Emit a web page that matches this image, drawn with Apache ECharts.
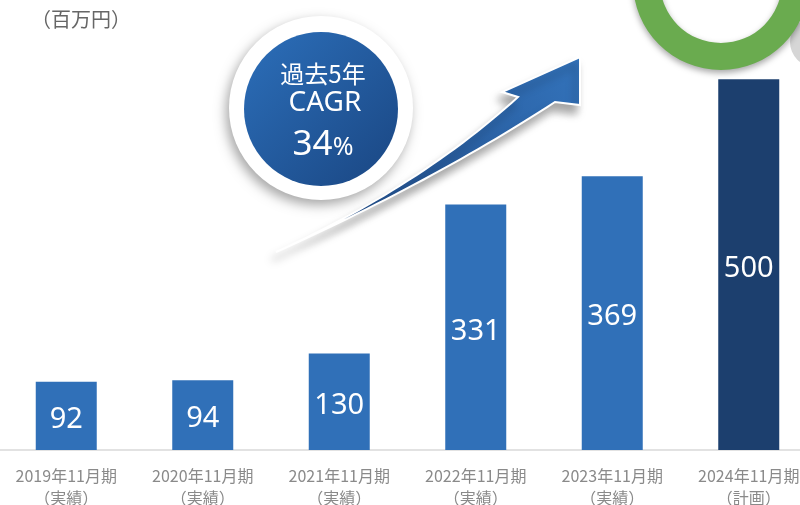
<!DOCTYPE html>
<html>
<head>
<meta charset="utf-8">
<script src="https://cdn.jsdelivr.net/npm/echarts@6/dist/echarts.min.js"></script>
<style>
  html, body { margin: 0; padding: 0; background: #fff; }
  #chart { width: 800px; height: 505px; }
</style>
</head>
<body>
<div id="chart"></div>
<script>
const periods = ["2019年11月期", "2020年11月期", "2021年11月期", "2022年11月期", "2023年11月期", "2024年11月期"];
const statuses = ["実績", "実績", "実績", "実績", "実績", "計画"];
const revenue = [92, 94, 130, 331, 369, 500];
const unitLabel = "（百万円）";
const cagrLines = ["過去5年", "CAGR", "34%"];

const font = '"Noto Sans CJK JP", "Noto Sans", sans-serif';
const chart = echarts.init(document.getElementById("chart"));

// sample a quadratic bezier into points for the tapered arrow shaft
function quad(p0, p1, p2, steps) {
  const pts = [];
  for (let i = 0; i <= steps; i++) {
    const t = i / steps;
    const a = (1 - t) * (1 - t), b = 2 * (1 - t) * t, c = t * t;
    pts.push([a * p0[0] + b * p1[0] + c * p2[0], a * p0[1] + b * p1[1] + c * p2[1]]);
  }
  return pts;
}

const upper = quad([276, 252], [420, 186], [518, 97], 30);
const lower = quad([555, 102], [432, 182], [276, 252], 30);
const arrowPoints = upper.concat([[502, 92], [580, 57], [580, 105]], lower);

chart.setOption({
  animation: false,
  grid: { left: -2, right: -17, top: 5, bottom: 55, outerBoundsMode: "none", containLabel: false },
  xAxis: {
    type: "category",
    data: periods,
    axisTick: { show: false },
    axisLine: { lineStyle: { color: "#e2e2e2", width: 2 } },
    axisLabel: {
      margin: 15,
      color: "#8a8a8a",
      fontSize: 16,
      lineHeight: 22,
      fontFamily: font,
      formatter: (value, index) => value + "\n（" + statuses[index] + "）"
    }
  },
  yAxis: {
    type: "value",
    min: 0,
    max: 600,
    show: false,
    splitLine: { show: false }
  },
  series: [{
    type: "bar",
    data: revenue,
    barWidth: 61,
    itemStyle: {
      color: (p) => statuses[p.dataIndex] === "計画" ? "#1c3f6e" : "#3070b8"
    },
    label: {
      show: true,
      position: "inside",
      offset: [0, 4],
      color: "#fff",
      fontSize: 29,
      fontFamily: '"Noto Sans", sans-serif'
    }
  }],
  graphic: [
    {
      type: "text",
      left: 31,
      top: 9,
      style: { text: unitLabel, fontSize: 20, fill: "#666", fontFamily: font }
    },
    {
      type: "circle",
      shape: { cx: 815, cy: 42, r: 25 },
      style: { fill: "#d6d6d6" },
      z: 1
    },
    {
      type: "ring",
      shape: { cx: 721, cy: -18, r: 88, r0: 61 },
      style: {
        fill: "#6aab4f",
        shadowBlur: 6,
        shadowColor: "rgba(0,0,0,0.35)",
        shadowOffsetY: 3
      },
      z: 2
    },
    {
      type: "polygon",
      shape: { points: arrowPoints },
      style: {
        fill: new echarts.graphic.LinearGradient(0, 1, 1, 0, [
          { offset: 0, color: "#1d4580" },
          { offset: 1, color: "#3373bb" }
        ]),
        stroke: "#fff",
        lineWidth: 2,
        shadowBlur: 8,
        shadowColor: "rgba(0,0,0,0.35)",
        shadowOffsetX: -4,
        shadowOffsetY: 8
      },
      z: 5
    },
    {
      type: "circle",
      shape: { cx: 321, cy: 108, r: 92 },
      style: {
        fill: "#fff",
        shadowBlur: 12,
        shadowColor: "rgba(0,0,0,0.35)",
        shadowOffsetX: -3,
        shadowOffsetY: 5
      },
      z: 6
    },
    {
      type: "circle",
      shape: { cx: 321, cy: 109, r: 77 },
      style: {
        fill: new echarts.graphic.LinearGradient(0, 0, 1, 1, [
          { offset: 0, color: "#2c6fba" },
          { offset: 1, color: "#1a4682" }
        ])
      },
      z: 7
    },
    {
      type: "text",
      x: 323,
      y: 74,
      style: {
        text: cagrLines[0], fill: "#fff", fontSize: 24, fontFamily: font,
        align: "center", verticalAlign: "middle"
      },
      z: 8
    },
    {
      type: "text",
      x: 325,
      y: 103,
      style: {
        text: cagrLines[1], fill: "#fff", fontSize: 28, fontFamily: '"Noto Sans", sans-serif',
        align: "center", verticalAlign: "middle"
      },
      z: 8
    },
    {
      type: "text",
      x: 323,
      y: 145,
      style: {
        text: "{a|" + cagrLines[2].slice(0, -1) + "}{b|%}",
        align: "center",
        verticalAlign: "middle",
        rich: {
          a: { fontSize: 35, fill: "#fff", fontFamily: '"Noto Sans", sans-serif' },
          b: { fontSize: 25, fill: "#fff", fontFamily: '"Noto Sans", sans-serif', padding: [6, 0, 0, 0] }
        }
      },
      z: 8
    }
  ]
});
</script>
</body>
</html>
